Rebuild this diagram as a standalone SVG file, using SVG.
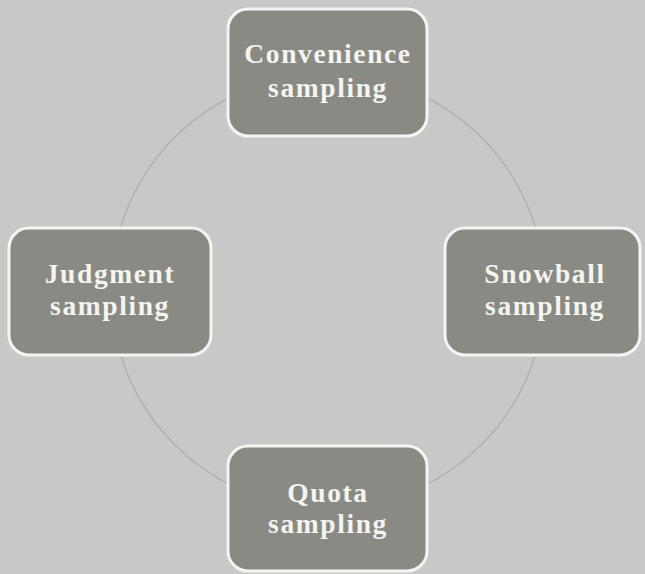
<svg xmlns="http://www.w3.org/2000/svg" width="645" height="574" viewBox="0 0 645 574">
<style>
.box{fill:#8a8a84;stroke:#f4f4f2;stroke-width:3}
.t{font-family:"Liberation Serif","Times New Roman",serif;font-weight:bold;font-size:27.5px;fill:#f4f4f0;text-anchor:middle;letter-spacing:1.6px}
</style>
<rect width="645" height="574" fill="#c8c8c8"/>
<g id="connectors">
<circle cx="328" cy="291" r="217" fill="none" stroke="#b0b0b0" stroke-width="1.5"/>
</g>
<g id="convenience">
<rect class="box" x="228" y="9" width="199" height="127" rx="20"/>
<text class="t" x="328" y="63">Convenience</text>
<text class="t" x="328" y="97">sampling</text>
</g>
<g id="judgment">
<rect class="box" x="9" y="228" width="202" height="127" rx="20"/>
<text class="t" x="110" y="283">Judgment</text>
<text class="t" x="110" y="315">sampling</text>
</g>
<g id="snowball">
<rect class="box" x="445" y="228" width="195" height="127" rx="20"/>
<text class="t" x="545" y="283">Snowball</text>
<text class="t" x="545" y="315">sampling</text>
</g>
<g id="quota">
<rect class="box" x="228" y="446" width="199" height="125" rx="20"/>
<text class="t" x="328" y="502">Quota</text>
<text class="t" x="328" y="533">sampling</text>
</g>
</svg>
